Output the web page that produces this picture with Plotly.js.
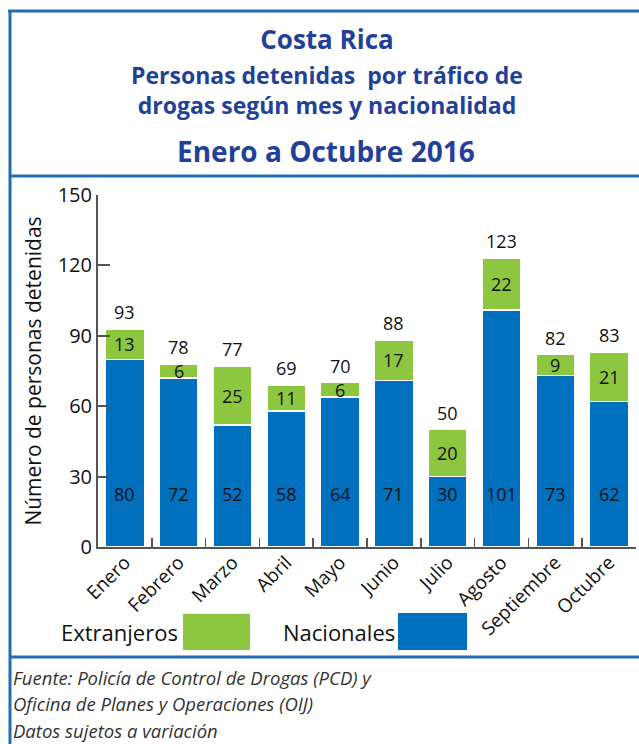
<!DOCTYPE html>
<html>
<head>
<meta charset="utf-8">
<script src="https://cdn.plot.ly/plotly-3.0.1.min.js"></script>
<style>html,body{margin:0;padding:0;background:#fff;}#chart{width:639px;height:744px;}</style>
</head>
<body>
<div id="chart"></div>
<script>
const months = ["Enero","Febrero","Marzo","Abril","Mayo","Junio","Julio","Agosto","Septiembre","Octubre"];
const nacionales = [80,72,52,58,64,71,30,101,73,62];
const extranjeros = [13,6,25,11,6,17,20,22,9,21];
const totals = [93,78,77,69,70,88,50,123,82,83];
const yTicks = [0,30,60,90,120,150];
const seriesNames = ["Extranjeros","Nacionales"];

const W = 639, H = 744;
const px = x => x / W;
const py = y => 1 - y / H;

const BLUE = "#0070BF";
const GREEN = "#8DC63F";
const FRAME = "#1F6DB2";
const TITLE = "#1F419A";
const FONT = "'Open Sans', 'Noto Sans', sans-serif";
const TFONT = "'Open Sans', 'Noto Sans', sans-serif";

const traces = [
  {type:"bar", name:seriesNames[1], x:months, y:nacionales,
   marker:{color:BLUE, line:{color:"#fff", width:1.5}}, hoverinfo:"x+y"},
  {type:"bar", name:seriesNames[0], x:months, y:extranjeros,
   marker:{color:GREEN, line:{color:"#fff", width:1.5}}, hoverinfo:"x+y"}
];

const ann = [];
months.forEach((m,i)=>{
  ann.push({x:m, y:22.6, xref:"x", yref:"y", text:String(nacionales[i]), showarrow:false,
            font:{family:FONT, size:18, color:"#111"}});
  ann.push({x:m, y:nacionales[i] + extranjeros[i]/2, xref:"x", yref:"y", text:String(extranjeros[i]), showarrow:false,
            font:{family:FONT, size:18, color:"#111"}});
  ann.push({x:m, y:totals[i], xref:"x", yref:"y", text:String(totals[i]), showarrow:false,
            yanchor:"bottom", yshift:3, font:{family:FONT, size:18, color:"#111"}});
});

const pann = (x,y,text,xa,font)=>({xref:"paper", yref:"paper", x:px(x), y:py(y), xanchor:xa, yanchor:"middle",
          text:text, showarrow:false, font:font});

// title lines
ann.push(pann(327,90,"<b>Personas detenidas  por tráfico de<br>drogas según mes y nacionalidad</b>","center",{family:TFONT, size:23, color:TITLE}));
ann.push(pann(326,151,"<b>Enero a Octubre 2016</b>","center",{family:TFONT, size:28, color:TITLE}));

// legend
ann.push(pann(180,632,seriesNames[0],"right",{family:FONT, size:22, color:"#111"}));
ann.push(pann(397,632,seriesNames[1],"right",{family:FONT, size:22, color:"#111"}));

// footer
const foot = [["Fuente: Policía de Control de Drogas (PCD) y",677],["Oficina de Planes y Operaciones (OIJ)",703],["Datos sujetos a variación",730]];
foot.forEach(f=>ann.push(pann(11,f[1],"<i>"+f[0]+"</i>","left",{family:FONT, size:18.5, color:"#333"})));

const line = (x0,y0,x1,y1,w)=>({type:"line", xref:"paper", yref:"paper", x0:px(x0), y0:py(y0), x1:px(x1), y1:py(y1),
          line:{color:FRAME, width:w}});
const shapes = [
  line(8,11,639,11,3),
  line(10,10,10,744,3),
  line(10,176,639,176,3),
  line(10,657,639,657,3),
  {type:"rect", xref:"paper", yref:"paper", x0:px(183), x1:px(250), y0:py(650), y1:py(614), fillcolor:GREEN, line:{width:0}},
  {type:"rect", xref:"paper", yref:"paper", x0:px(398), x1:px(467), y0:py(650), y1:py(613), fillcolor:BLUE, line:{width:0}}
];

const layout = {
  width:W, height:H,
  margin:{l:0, r:0, t:0, b:0},
  paper_bgcolor:"#fff", plot_bgcolor:"#fff",
  barmode:"stack", bargap:0.28,
  showlegend:false,
  title:{text:"<b>Costa Rica</b>", x:px(327), xanchor:"center", y:py(40), yanchor:"middle",
         font:{family:TFONT, size:26, color:TITLE}},
  xaxis:{domain:[px(98), px(636)], type:"category", range:[-0.5,9.5], tickangle:-45,
         ticks:"inside", tickson:"boundaries", ticklen:9, tickwidth:1.5, tickcolor:"#555",
         showline:true, linecolor:"#555", linewidth:2, showgrid:false, automargin:false,
         ticklabelstandoff:-5,
         tickfont:{family:FONT, size:19, color:"#111"}},
  yaxis:{domain:[py(547), py(195)], range:[0,150], tickvals:yTicks, ticktext:yTicks.map(String),
         ticks:"inside", ticklen:12, tickwidth:2, tickcolor:"#555",
         showline:true, linecolor:"#555", linewidth:2, showgrid:false, zeroline:false, automargin:false,
         tickfont:{family:FONT, size:20, color:"#111"},
         title:{text:"Número de personas detenidas", standoff:10, font:{family:FONT, size:21, color:"#111"}}},
  annotations:ann,
  shapes:shapes
};

Plotly.newPlot("chart", traces, layout, {displayModeBar:false, staticPlot:true});
</script>
</body>
</html>
